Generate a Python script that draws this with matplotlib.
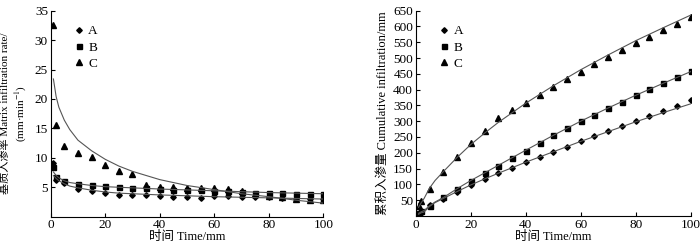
import matplotlib
matplotlib.use("Agg")
import matplotlib.pyplot as plt

plt.rcParams['font.family'] = ['Liberation Serif', 'Noto Sans CJK SC']
plt.rcParams['mathtext.fontset'] = 'stix'

# ---- data ----
t = [1, 2, 5, 10, 15, 20, 25, 30, 35, 40, 45, 50, 55, 60, 65, 70, 75, 80, 85, 90, 95, 100]

# infiltration rate (mm/min)
rate_A = [9.1, 6.2, 5.7, 4.65, 4.4, 4.1, 3.7, 3.7, 3.7, 3.5, 3.4, 3.4, 3.1, 3.5, 3.6, 3.4, 3.4, 3.3, 3.1, 3.0, 3.0, 3.0]
rate_B = [8.4, 6.8, 6.0, 5.6, 5.4, 5.2, 5.0, 4.9, 4.8, 4.7, 4.6, 4.6, 4.5, 4.4, 4.4, 4.2, 4.0, 4.0, 4.0, 3.9, 3.9, 3.9]
rate_C = [32.6, 15.5, 12.0, 10.9, 10.2, 8.8, 7.8, 7.3, 5.3, 5.1, 5.0, 4.9, 4.8, 4.8, 4.7, 4.3, 3.8, 3.6, 3.3, 3.0, 2.9, 2.9]

# fitted rate curves
fit_t = [1, 2, 3, 5, 7, 10, 15, 20, 25, 30, 40, 50, 60, 70, 80, 90, 100]
fit_rate_A = [7.0, 6.5, 6.1, 5.6, 5.2, 4.9, 4.5, 4.2, 4.0, 3.9, 3.7, 3.55, 3.4, 3.3, 3.2, 3.1, 3.0]
fit_rate_B = [7.6, 7.0, 6.6, 6.1, 5.8, 5.6, 5.3, 5.1, 5.0, 4.9, 4.7, 4.55, 4.4, 4.25, 4.1, 4.0, 3.9]
fit_rate_C = [23.4, 20.4, 18.6, 16.4, 14.8, 13.0, 11.2, 9.75, 8.6, 7.7, 6.3, 5.3, 4.6, 3.9, 3.4, 2.8, 2.3]

# cumulative infiltration (mm)
cum_A = [5, 10, 34, 55, 76, 98, 116, 135, 153, 170, 187, 203, 219, 237, 253, 269, 286, 300, 317, 333, 348, 366]
cum_B = [8, 15, 32, 60, 84, 111, 137, 159, 184, 207, 232, 256, 277, 301, 320, 341, 361, 383, 401, 421, 439, 459]
cum_C = [32, 47, 84, 138, 187, 232, 270, 309, 335, 358, 383, 408, 433, 457, 481, 502, 524, 547, 568, 590, 609, 629]

fit_cum_A = [5, 10, 12, 30, 42, 55, 77, 98, 117, 135, 170, 203, 236, 267, 298, 327, 355]
fit_cum_B = [8, 13, 17, 32, 44, 58, 86, 112, 136, 160, 208, 255, 300, 342, 382, 420, 457]
fit_cum_C = [27, 42, 55, 88, 112, 140, 185, 226, 262, 296, 357, 412, 463, 510, 555, 596, 636]

labels = ['A', 'B', 'C']
markers = ['D', 's', '^']
msizes = [2.8, 3.6, 3.9]

fig = plt.figure(figsize=(7.0, 2.47), dpi=100)
ax1 = fig.add_axes([0.0724, 0.1227, 0.3896, 0.834])
ax2 = fig.add_axes([0.594, 0.126, 0.3927, 0.8307])

line_kw = dict(color='#555555', lw=0.8)

for ys, lab, m, ms in zip([rate_A, rate_B, rate_C], labels, markers, msizes):
    ax1.plot(t, ys, linestyle='none', marker=m, ms=ms, color='black', label=lab)
for ys in [fit_rate_A, fit_rate_B, fit_rate_C]:
    ax1.plot(fit_t, ys, **line_kw)

for ys, lab, m, ms in zip([cum_A, cum_B, cum_C], labels, markers, msizes):
    ax2.plot(t, ys, linestyle='none', marker=m, ms=ms, color='black', label=lab)
for ys in [fit_cum_A, fit_cum_B, fit_cum_C]:
    ax2.plot(fit_t, ys, **line_kw)

ax1.set_xlim(0, 100)
ax1.set_ylim(0, 35)
ax1.set_xticks([0, 20, 40, 60, 80, 100])
ax1.set_yticks([5, 10, 15, 20, 25, 30, 35])

ax2.set_xlim(0, 100)
ax2.set_ylim(0, 650)
ax2.set_xticks([0, 20, 40, 60, 80, 100])
ax2.set_yticks(list(range(50, 651, 50)))

for ax in (ax1, ax2):
    ax.spines['top'].set_visible(False)
    ax.spines['right'].set_visible(False)
    ax.spines['left'].set_linewidth(0.8)
    ax.spines['bottom'].set_linewidth(0.8)
    ax.tick_params(direction='in', length=3, width=0.8, labelsize=9.5, pad=2)
    ax.set_xlabel('时间 Time/mm', fontsize=9, labelpad=0)
    ax.legend(loc='upper left', bbox_to_anchor=(0.06, 0.955), frameon=False,
              fontsize=9.5, handlelength=1.0, handletextpad=0.2,
              labelspacing=0.3, borderaxespad=0)

ax1.set_ylabel('基质入渗率 Matrix infiltration rate/\n(mm·min$^{-1}$)', fontsize=8,
               linespacing=1.35)
ax1.yaxis.set_label_coords(-0.078, 0.5)
ax2.set_ylabel('累积入渗量 Cumulative infiltration/mm', fontsize=9)
ax2.yaxis.set_label_coords(-0.097, 0.5)

fig.savefig('out.png', dpi=100)
